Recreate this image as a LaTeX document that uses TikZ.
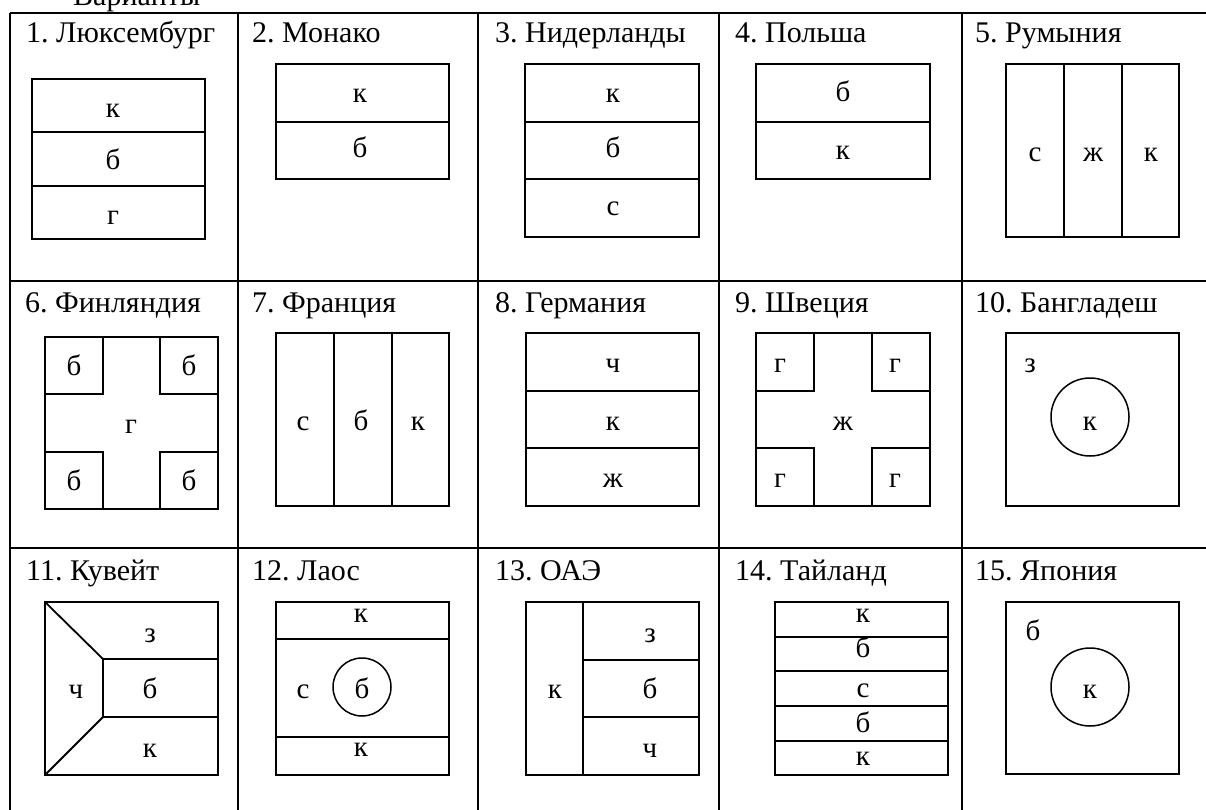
\documentclass[tikz,border=0pt]{standalone}
\usepackage{fontspec}
\setmainfont{Liberation Serif}
\frenchspacing
\begin{document}
\begin{tikzpicture}[x=1pt,y=-1pt,
 tbl/.style={line width=2.6pt},
 flg/.style={line width=1.8pt},
 crc/.style={line width=1.5pt},
 hdr/.style={anchor=base west, inner sep=0pt, font=\fontsize{30}{34}\selectfont\frenchspacing},
 lbl/.style={anchor=base, inner sep=0pt, font=\fontsize{29}{34}\selectfont}]
\useasboundingbox (0,0) rectangle (1206,810);
\clip (0,0) rectangle (1206,810);
% title
\node[hdr] (title) at (73,6) {Варианты};
% table
\draw[tbl] (10,13) -- (1230,13);
\draw[tbl] (10,281) -- (1230,281);
\draw[tbl] (10,548) -- (1230,548);
\foreach \x in {10,238,478,719,962} \draw[tbl] (\x,13) -- (\x,830);
% headers
\node[hdr] (h1) at (26,43) {1. Люксембург};
\node[hdr] (h2) at (252,43) {2. Монако};
\node[hdr] (h3) at (495,43) {3. Нидерланды};
\node[hdr] (h4) at (735,43) {4. Польша};
\node[hdr] (h5) at (975,43) {5. Румыния};
\node[hdr] (h6) at (25,312) {6. Финляндия};
\node[hdr] (h7) at (252,312) {7. Франция};
\node[hdr] (h8) at (495,312) {8. Германия};
\node[hdr] (h9) at (735,312) {9. Швеция};
\node[hdr] (h10) at (975,312) {10. Бангладеш};
\node[hdr] (h11) at (26,580) {11. Кувейт};
\node[hdr] (h12) at (252,580) {12. Лаос};
\node[hdr] (h13) at (495,580) {13. ОАЭ};
\node[hdr] (h14) at (735,580) {14. Тайланд};
\node[hdr] (h15) at (975,580) {15. Япония};
% 1 Luxembourg
\draw[flg] (32,79) rectangle (205,239);
\draw[flg] (32,132) -- (205,132);
\draw[flg] (32,186) -- (205,186);
\node[lbl] (l1a) at (113,118) {к};
\node[lbl] (l1b) at (113,170) {б};
\node[lbl] (l1c) at (113,225) {г};
% 2 Monaco
\draw[flg] (276,64) rectangle (449,179);
\draw[flg] (276,122) -- (449,122);
\node[lbl] (l2a) at (360,103) {к};
\node[lbl] (l2b) at (360,158) {б};
% 3 Netherlands
\draw[flg] (525,64) rectangle (699,237);
\draw[flg] (525,122) -- (699,122);
\draw[flg] (525,179) -- (699,179);
\node[lbl] (l3a) at (613,103) {к};
\node[lbl] (l3b) at (613,158) {б};
\node[lbl] (l3c) at (613,215) {с};
% 4 Poland
\draw[flg] (756,64) rectangle (930,179);
\draw[flg] (756,122) -- (930,122);
\node[lbl] (l4a) at (843,102) {б};
\node[lbl] (l4b) at (843,160) {к};
% 5 Romania
\draw[flg] (1006,64) rectangle (1179,237);
\draw[flg] (1064,64) -- (1064,237);
\draw[flg] (1122,64) -- (1122,237);
\node[lbl] (l5a) at (1035,162) {с};
\node[lbl] (l5b) at (1093,162) {ж};
\node[lbl] (l5c) at (1151,162) {к};
% 6 Finland
\draw[flg] (45,337) rectangle (218,509);
\draw[flg] (45,394) -- (103,394) -- (103,337);
\draw[flg] (160,337) -- (160,394) -- (218,394);
\draw[flg] (45,452) -- (103,452) -- (103,509);
\draw[flg] (160,509) -- (160,452) -- (218,452);
\node[lbl] (l6a) at (74,375) {б};
\node[lbl] (l6b) at (189,375) {б};
\node[lbl] (l6c) at (131,433) {г};
\node[lbl] (l6d) at (74,490) {б};
\node[lbl] (l6e) at (189,490) {б};
% 7 France
\draw[flg] (276,333) rectangle (449,506);
\draw[flg] (334,333) -- (334,506);
\draw[flg] (392,333) -- (392,506);
\node[lbl] (l7a) at (303,430) {с};
\node[lbl] (l7b) at (361,430) {б};
\node[lbl] (l7c) at (418,430) {к};
% 8 Germany
\draw[flg] (526,333) rectangle (699,506);
\draw[flg] (526,391) -- (699,391);
\draw[flg] (526,448) -- (699,448);
\node[lbl] (l8a) at (613,372) {ч};
\node[lbl] (l8b) at (613,430) {к};
\node[lbl] (l8c) at (613,487) {ж};
% 9 Sweden
\draw[flg] (756,333) rectangle (930,506);
\draw[flg] (756,391) -- (814,391) -- (814,333);
\draw[flg] (872,333) -- (872,391) -- (930,391);
\draw[flg] (756,448) -- (814,448) -- (814,506);
\draw[flg] (872,506) -- (872,448) -- (930,448);
\node[lbl] (l9a) at (780,372) {г};
\node[lbl] (l9b) at (895,372) {г};
\node[lbl] (l9c) at (843,430) {ж};
\node[lbl] (l9d) at (780,487) {г};
\node[lbl] (l9e) at (895,487) {г};
% 10 Bangladesh
\draw[flg] (1006,333) rectangle (1179,506);
\draw[crc] (1090,417) circle[radius=39];
\node[lbl] (l10a) at (1030,372) {з};
\node[lbl] (l10b) at (1090,430) {к};
% 11 Kuwait
\draw[flg] (45,602) rectangle (218,775);
\draw[flg] (45,602) -- (103,659) -- (103,717) -- (45,775);
\draw[flg] (103,659) -- (218,659);
\draw[flg] (103,717) -- (218,717);
\node[lbl] (l11a) at (150,642) {з};
\node[lbl] (l11b) at (76,698) {ч};
\node[lbl] (l11c) at (150,698) {б};
\node[lbl] (l11d) at (150,757) {к};
% 12 Laos
\draw[flg] (276,602) rectangle (449,775);
\draw[flg] (276,639) -- (449,639);
\draw[flg] (276,737) -- (449,737);
\draw[crc] (362,687) circle[radius=29];
\node[lbl] (l12a) at (361,622) {к};
\node[lbl] (l12b) at (303,698) {с};
\node[lbl] (l12c) at (362,698) {б};
\node[lbl] (l12d) at (361,756) {к};
% 13 UAE
\draw[flg] (526,602) rectangle (699,775);
\draw[flg] (583,602) -- (583,775);
\draw[flg] (583,660) -- (699,660);
\draw[flg] (583,717) -- (699,717);
\node[lbl] (l13a) at (555,698) {к};
\node[lbl] (l13b) at (650,642) {з};
\node[lbl] (l13c) at (650,698) {б};
\node[lbl] (l13d) at (650,757) {ч};
% 14 Thailand
\draw[flg] (775,602) rectangle (948,775);
\foreach \y in {637,671,706,741} \draw[flg] (775,\y) -- (948,\y);
\node[lbl] (l14a) at (863,622) {к};
\node[lbl] (l14b) at (863,657) {б};
\node[lbl] (l14c) at (863,697) {с};
\node[lbl] (l14d) at (863,732) {б};
\node[lbl] (l14e) at (863,765) {к};
% 15 Japan
\draw[flg] (1006,602) rectangle (1179,774);
\draw[crc] (1090,687) circle[radius=39];
\node[lbl] (l15a) at (1033,640) {б};
\node[lbl] (l15b) at (1090,698) {к};
\end{tikzpicture}
\end{document}
